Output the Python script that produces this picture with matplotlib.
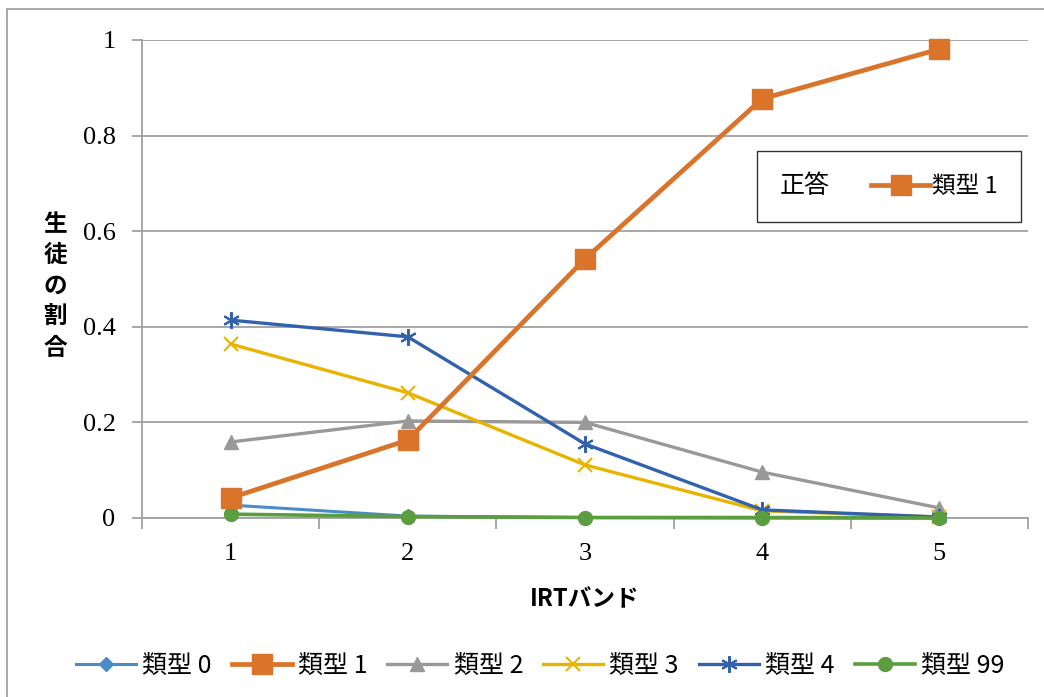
import matplotlib
matplotlib.use("Agg")
import matplotlib.pyplot as plt
from matplotlib.lines import Line2D
from matplotlib.patches import Rectangle
from matplotlib.offsetbox import HPacker

plt.rcParams['font.family'] = ['Noto Sans CJK JP', 'DejaVu Sans']

bands = [1, 2, 3, 4, 5]
type0 = [0.027, 0.004, 0.001, 0.0, 0.0]
type1 = [0.042, 0.163, 0.542, 0.877, 0.981]
type2 = [0.159, 0.203, 0.200, 0.096, 0.021]
type3 = [0.364, 0.262, 0.111, 0.015, 0.002]
type4 = [0.414, 0.379, 0.155, 0.017, 0.002]
type99 = [0.008, 0.003, 0.001, 0.001, 0.0]
series_labels = ['類型 0', '類型 1', '類型 2', '類型 3', '類型 4', '類型 99']
yticks = [0, 0.2, 0.4, 0.6, 0.8, 1]
ytick_labels = ['0', '0.2', '0.4', '0.6', '0.8', '1']

W, H = 1044, 697
fig = plt.figure(figsize=(W / 100, H / 100), dpi=100)
ax = fig.add_axes([142 / W, 1 - 518 / H, (1028 - 142) / W, (518 - 40) / H])

grid_c = '#a0a0a0'
styles = [
    dict(color='#4a8cc8', marker='D', ms=7, lw=2.2, zorder=3),
    dict(color='#d9742a', marker='s', ms=14, lw=3.4, zorder=9),
    dict(color='#999999', marker='^', ms=10, lw=2.4, zorder=4),
    dict(color='#e8b400', marker='x', ms=10, mew=1.5, lw=2.4, zorder=5),
    dict(color='#3262ad', marker=(6, 2, 0), ms=12, mew=1.5, lw=2.4, zorder=6),
    dict(color='#5b9e40', marker='o', ms=10, lw=2.6, zorder=7),
]
all_series = [type0, type1, type2, type3, type4, type99]
handles = []
for vals, lab, st in zip(all_series, series_labels, styles):
    h, = ax.plot(bands, vals, label=lab, clip_on=False, **st)
    handles.append(h)

ax.set_xlim(0.5, 5.5)
ax.set_ylim(0, 1)
ax.set_yticks(yticks)
ax.set_yticklabels(ytick_labels, family='Liberation Serif', fontsize=19)
ax.set_xticks(bands)
ax.set_xticklabels([str(b) for b in bands], family='Liberation Serif', fontsize=19)
ax.set_xticks([b - 0.5 for b in bands] + [5.5], minor=True)
ax.tick_params(axis='x', which='major', length=0, pad=18)
ax.tick_params(axis='x', which='minor', length=8, width=1.3, color=grid_c, direction='out')
ax.tick_params(axis='y', length=7, width=1.3, color=grid_c, pad=12)
ax.grid(axis='y', color=grid_c, lw=1.3)
ax.set_axisbelow(True)
for s in ['top', 'right']:
    ax.spines[s].set_visible(False)
for s in ['left', 'bottom']:
    ax.spines[s].set_color(grid_c)
    ax.spines[s].set_linewidth(1.3)

ax.set_xlabel('IRTバンド', fontsize=17, fontweight='bold', labelpad=16)
fig.text(55 / W, 1 - 286 / H, '\n'.join('生徒の割合'), fontsize=17, fontweight='bold',
         ha='center', va='center', linespacing=1.36)

# bottom legend
fig.legend(handles=handles, labels=series_labels, loc='center', bbox_to_anchor=(540 / W, 1 - 666 / H),
           ncol=6, frameon=False, fontsize=18, handlelength=2.4, handletextpad=0.25,
           columnspacing=0.8)

# inner legend
h_in = Line2D([], [], **{k: v for k, v in styles[1].items() if k != 'zorder'})
leg = ax.legend(handles=[h_in], labels=['類型 1'], title='正答', loc='upper left',
                bbox_to_anchor=((757 - 142) / 886, (518 - 151) / 478), fontsize=17,
                title_fontsize=18, frameon=True, fancybox=False, edgecolor='black',
                handlelength=2.5, handletextpad=0.1, borderpad=0.95, borderaxespad=0)
leg.get_frame().set_linewidth(1.0)
vp = leg._legend_box
kids = vp.get_children()
hp = HPacker(pad=vp.pad, sep=30, align='center', children=kids)
hp.axes = ax
hp.set_figure(fig)
hp.set_offset(leg._findoffset)
leg._legend_box = hp
leg.set_zorder(20)

# outer border
fig.patches.append(Rectangle((7 / W, -0.5), 2, 1.5 - 9 / H, transform=fig.transFigure,
                             fill=False, edgecolor='#999999', lw=1.2, figure=fig))

fig.savefig('out.png', dpi=100)
